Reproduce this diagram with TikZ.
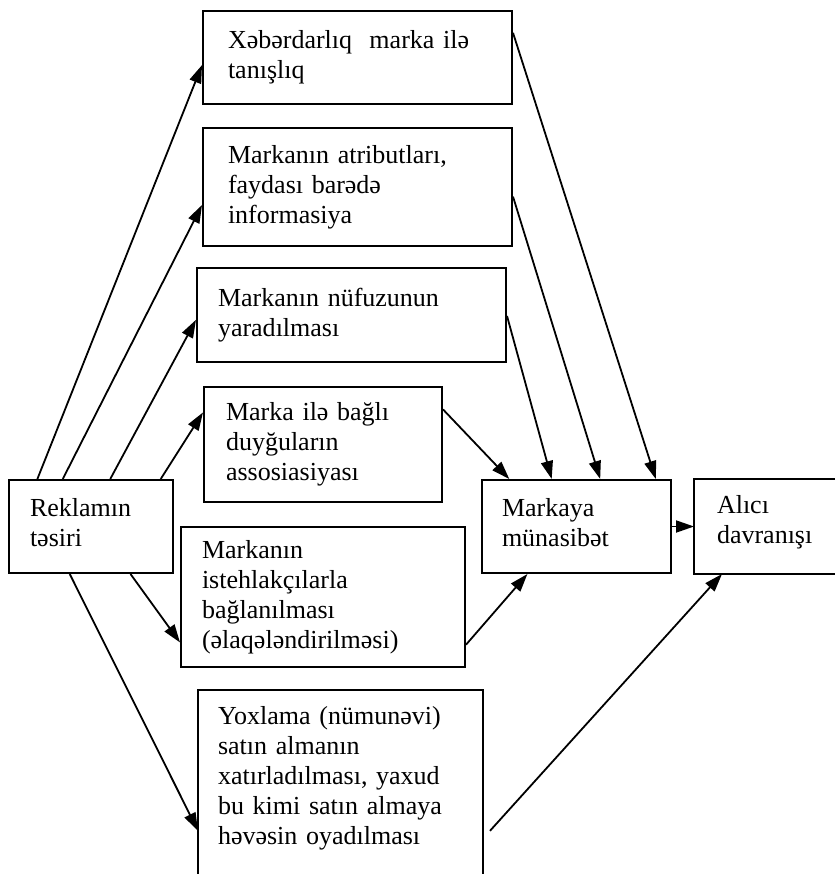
\documentclass[tikz,border=0pt]{standalone}
\usepackage{fontspec}
\setmainfont{Liberation Serif}
\usetikzlibrary{arrows.meta,calc}
\begin{document}
\begin{tikzpicture}[x=1pt,y=-1pt,
  box/.style={draw, line width=2pt, rectangle, inner sep=0pt, align=left,
    font=\fontsize{26}{30}\selectfont},
  arr/.style={line width=1.8pt, -{Triangle[length=18pt,width=12pt]}},
  side/.style={line width=2pt}]
\useasboundingbox (0,0) rectangle (835,874);
\coordinate (edgeR) at (835,0);
\coordinate (edgeB) at (0,874);

\node[box, minimum width=309pt, minimum height=93pt, text width=259pt] (b1) at (357.5,57.5)
  {Xəbərdarlıq\ \ marka ilə\\tanışlıq};
\node[box, minimum width=309pt, minimum height=118pt, text width=259pt] (b2) at (357.5,187)
  {Markanın atributları,\\faydası barədə\\informasiya};
\node[box, minimum width=309pt, minimum height=94pt, text width=267pt] (b3) at (351.5,315)
  {Markanın nüfuzunun\\yaradılması};
\node[box, minimum width=238pt, minimum height=115pt, text width=194pt] (b4) at (323,444.5)
  {Marka ilə bağlı\\duyğuların\\assosiasiyası};
\node[box, minimum width=284pt, minimum height=140pt, text width=242pt] (b5) at (323,597)
  {Markanın\\istehlakçılarla\\bağlanılması\\(əlaqələndirilməsi)};
\node[box, draw=none, minimum width=283pt, minimum height=174pt, text width=245pt] (b6) at (340.5,778)
  {Yoxlama (nümunəvi)\\satın almanın\\xatırladılması, yaxud\\bu kimi satın almaya\\həvəsin oyadılması};
\node[box, minimum width=164pt, minimum height=93pt, text width=122pt] (r) at (91,526.5)
  {Reklamın\\təsiri\vspace{8pt}};
\node[box, minimum width=189pt, minimum height=93pt, text width=149pt] (m) at (576.5,526.5)
  {Markaya\\münasibət\vspace{8pt}};
\node[box, draw=none, anchor=west, inner xsep=22pt, minimum height=93pt, text width=120pt] (a) at (694,526.5)
  {Alıcı\\davranışı\vspace{8pt}};

% open-sided boxes
\draw[side] (b6.north west |- edgeB) -- (b6.north west) -- (b6.north east) -- (b6.north east |- edgeB);
\draw[side] (a.north west -| edgeR) -- (a.north west) -- (a.south west) -- (a.south west -| edgeR);

% from Reklamin
\draw[arr] ($(r.north west)!0.177!(r.north east)$) -- ($(b1.north west)!0.58!(b1.south west)$);
\draw[arr] ($(r.north west)!0.33!(r.north east)$) -- ($(b2.north west)!0.65!(b2.south west)$);
\draw[arr] ($(r.north west)!0.616!(r.north east)$) -- ($(b3.north west)!0.55!(b3.south west)$);
\draw[arr] ($(r.north west)!0.92!(r.north east)$) -- ($(b4.north west)!0.226!(b4.south west)$);
\draw[arr] ($(r.south west)!0.738!(r.south east)$) -- ($(b5.north west)!0.82!(b5.south west)$);
\draw[arr] ($(r.south west)!0.372!(r.south east)$) -- ($(b6.north west)!0.8!(b6.south west)$);

% to Markaya
\draw[arr] ($(b1.north east)!0.24!(b1.south east)$) -- ($(m.north west)!0.915!(m.north east)$);
\draw[arr] ($(b2.north east)!0.58!(b2.south east)$) -- ($(m.north west)!0.624!(m.north east)$);
\draw[arr] ($(b3.north east)!0.51!(b3.south east)$) -- ($(m.north west)!0.37!(m.north east)$);
\draw[arr] ($(b4.north east)!0.2!(b4.south east)$) -- ($(m.north west)!0.148!(m.north east)$);
\draw[arr] ($(b5.north east)!0.836!(b5.south east)$) -- ($(m.south west)!0.243!(m.south east)$);

% to Alici
\draw[arr] ($(b6.north east)!0.8!(b6.south east)+(7,0)$) -- ($(a.south west)+(28,0)$);
\draw[arr] (m.east) -- (a.west);
\end{tikzpicture}
\end{document}
